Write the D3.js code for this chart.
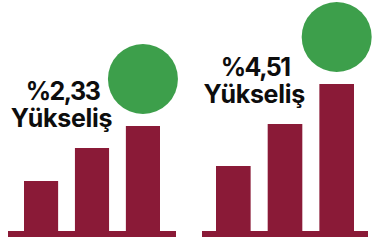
<!DOCTYPE html>
<html>
<head>
<meta charset="utf-8">
<script src="https://cdn.jsdelivr.net/npm/d3@7"></script>
<style>
  html, body { margin: 0; padding: 0; background: #fff; }
  svg { display: block; }
</style>
</head>
<body>
<svg id="chart"></svg>
<script>
const width = 380;
const height = 243;

// data
const bars = ["a", "b", "c"];
const leftValues = [50, 83, 105];
const rightValues = [65, 107, 147];
const labels = ["%2,33", "%4,51"];
const word = "Yükseliş";

const barColor = "#8a1a37";
const dotColor = "#3d9f4b";

const svg = d3.select("#chart")
  .attr("width", width)
  .attr("height", height);

const baseY = 231;

const yScale = d3.scaleLinear()
  .domain([0, 150])
  .range([baseY, baseY - 150]);

const groups = [
  { values: leftValues, label: labels[0], range: [24, 160], ext: [16, 16] },
  { values: rightValues, label: labels[1], range: [216, 354], ext: [14, 14] }
];

groups.forEach(gr => {
  const x = d3.scaleBand()
    .domain(bars)
    .range(gr.range)
    .paddingInner(0.33)
    .paddingOuter(0);

  const g = svg.append("g");

  // base line
  g.append("rect")
    .attr("x", gr.range[0] - gr.ext[0])
    .attr("y", baseY)
    .attr("width", gr.range[1] - gr.range[0] + gr.ext[0] + gr.ext[1])
    .attr("height", 6)
    .attr("fill", barColor);

  g.selectAll(".bar")
    .data(gr.values)
    .enter()
    .append("rect")
    .attr("class", "bar")
    .attr("x", (d, i) => x(bars[i]))
    .attr("y", d => yScale(d))
    .attr("width", x.bandwidth())
    .attr("height", d => baseY - yScale(d) + 1)
    .attr("fill", barColor);

  const last = gr.values.length - 1;
  g.append("circle")
    .attr("cx", x(bars[last]) + x.bandwidth() / 2)
    .attr("cy", yScale(gr.values[last]) - 47)
    .attr("r", 35)
    .attr("fill", dotColor);

  const tx = (x(bars[0]) + x(bars[1]) + x.bandwidth()) / 2 - 5;
  const ty = yScale(gr.values[1]) - 21;

  const font = g => g
    .attr("text-anchor", "middle")
    .attr("font-family", "Inter, 'Open Sans', sans-serif")
    .attr("font-weight", 700)
    .attr("font-size", 25)
    .attr("fill", "#0d0d0d");

  g.append("text").call(font)
    .attr("x", tx + 1)
    .attr("y", ty - 27)
    .attr("letter-spacing", -1.5)
    .text(gr.label);

  g.append("text").call(font)
    .attr("x", tx)
    .attr("y", ty)
    .attr("letter-spacing", -0.3)
    .text(word);
});
</script>
</body>
</html>
